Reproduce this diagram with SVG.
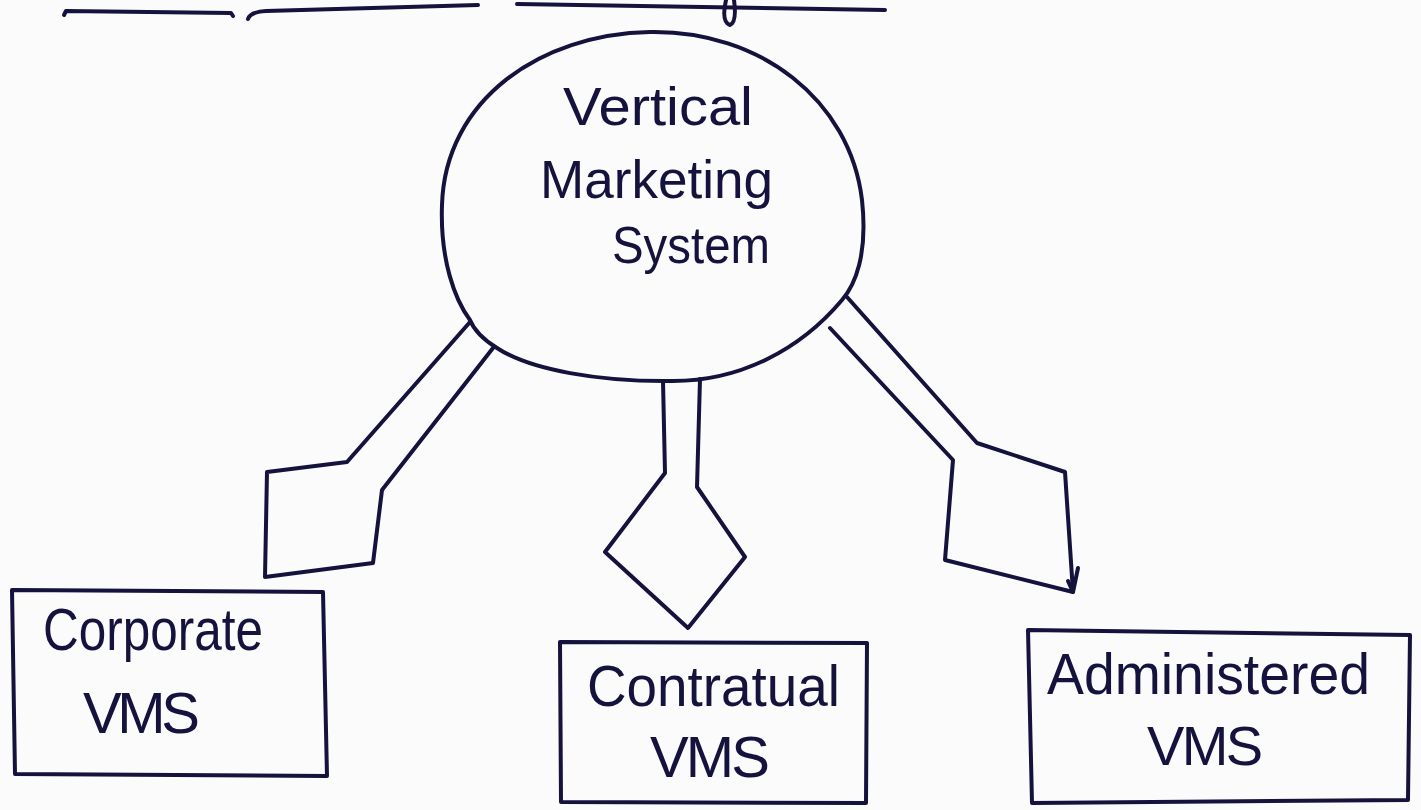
<svg xmlns="http://www.w3.org/2000/svg" width="1421" height="810" viewBox="0 0 1421 810">
  <style>
    .ink { fill: none; stroke: #15123d; stroke-width: 4; stroke-linecap: round; stroke-linejoin: round; }
    .label { fill: #15123d; font-family: "Liberation Sans", "DejaVu Sans", sans-serif; font-weight: normal; }
  </style>
  <rect width="1421" height="810" fill="#fbfbfb"/>

  <!-- ruled strokes along the top edge -->
  <g id="top-rules">
    <path class="ink" d="M64,15 L66,11 L231,13 L233,16"/>
    <path class="ink" d="M248,19 Q250,12 266,11 L478,5"/>
    <path class="ink" d="M517,4 L885,10"/>
    <path class="ink" d="M726,0 Q721,22 730,25 Q737,22 734,0"/>
  </g>

  <!-- central node -->
  <g id="vms-root">
    <path class="ink" d="M650,32 C760,30 850,100 862,200 C868,255 855,285 842,300 C800,350 740,381 673,381 C600,382 530,370 497,348 C484,340 474,330 470,320 C455,300 440,260 442,205 C445,100 540,34 650,32 Z"/>
    <text class="label" x="563" y="125" font-size="54" textLength="190" lengthAdjust="spacingAndGlyphs">Vertical</text>
    <text class="label" x="540" y="198" font-size="54" textLength="233" lengthAdjust="spacingAndGlyphs">Marketing</text>
    <text class="label" x="612" y="263" font-size="52" textLength="158" lengthAdjust="spacingAndGlyphs">System</text>
  </g>

  <!-- connectors -->
  <g id="connectors">
    <path class="ink" d="M470,322 L347,462 L267,472 L265,577 L373,563 L382,490 L493,348"/>
    <path class="ink" d="M663,381 L665,473 L605,552 L688,628 L745,557 L697,487 L700,379"/>
    <path class="ink" d="M847,297 L977,443 L1065,472 L1073,592 L945,560 L953,460 L830,328"/>
    <path class="ink" d="M1068,581 L1073,592 L1078,568"/>
  </g>

  <!-- child nodes -->
  <g id="corporate-vms">
    <path class="ink" d="M12,590 L323,592 L327,776 L15,774 Z"/>
    <text class="label" x="43" y="650" font-size="60" textLength="220" lengthAdjust="spacingAndGlyphs">Corporate</text>
    <text class="label" x="83" y="733" font-size="58" textLength="117" lengthAdjust="spacing">VMS</text>
  </g>

  <g id="contractual-vms">
    <path class="ink" d="M560,642 L867,643 L866,803 L561,802 Z"/>
    <text class="label" x="587" y="706" font-size="58" textLength="253" lengthAdjust="spacingAndGlyphs">Contratual</text>
    <text class="label" x="650" y="777" font-size="58" textLength="120" lengthAdjust="spacing">VMS</text>
  </g>

  <g id="administered-vms">
    <path class="ink" d="M1028,630 L1410,635 L1408,800 L1032,803 Z"/>
    <text class="label" x="1047" y="694" font-size="58" textLength="323" lengthAdjust="spacingAndGlyphs">Administered</text>
    <text class="label" x="1147" y="765" font-size="56" textLength="116" lengthAdjust="spacing">VMS</text>
  </g>
</svg>
